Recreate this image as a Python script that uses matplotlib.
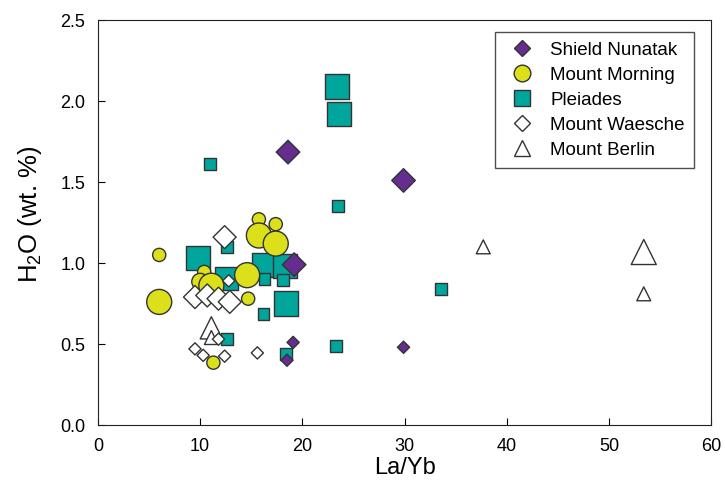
import numpy as np
import matplotlib
matplotlib.use("Agg")
import matplotlib.pyplot as plt
from matplotlib.lines import Line2D

plt.rcParams["font.family"] = ["Liberation Sans", "DejaVu Sans"]
plt.rcParams["mathtext.fontset"] = "custom"
plt.rcParams["mathtext.rm"] = "Liberation Sans"

# Shield Nunatak
sn_x = [18.6, 29.9, 19.2, 19.1, 18.5, 29.9]
sn_y = [1.685, 1.51, 0.99, 0.51, 0.40, 0.48]
sn_ms = [12.0, 12.0, 12.0, 6.2, 6.2, 6.2]

# Mount Morning
mm_x = [6.0, 6.0, 15.75, 17.4, 15.75, 17.4, 14.6, 10.4, 10.0, 11.1, 14.7, 11.3]
mm_y = [1.05, 0.76, 1.27, 1.24, 1.17, 1.12, 0.925, 0.945, 0.885, 0.86, 0.78, 0.385]
mm_ms = [9.5, 18.0, 9.5, 9.5, 18.0, 18.0, 18.0, 9.5, 12.0, 18.0, 9.5, 9.5]

# Pleiades
pl_x = [11.0, 23.4, 23.6, 23.5, 33.6, 23.3, 9.8, 12.6, 16.3, 18.3,
        12.6, 16.3, 18.1, 18.4, 16.2, 12.6, 18.4]
pl_y = [1.61, 2.09, 1.92, 1.35, 0.84, 0.49, 1.03, 1.10, 0.99, 0.98,
        0.905, 0.90, 0.895, 0.75, 0.685, 0.53, 0.44]
pl_ms = [8.6, 17.5, 17.5, 8.6, 8.6, 8.6, 17.5, 8.6, 17.5, 17.5,
         17.0, 8.6, 8.6, 17.5, 8.6, 8.6, 8.6]

# Mount Waesche
mw_x = [12.4, 12.8, 9.5, 10.7, 11.8, 12.9, 9.5, 10.3, 11.8, 12.4, 15.6]
mw_y = [1.16, 0.89, 0.79, 0.80, 0.78, 0.76, 0.47, 0.43, 0.53, 0.425, 0.445]
mw_ms = [11.7, 6.2, 11.7, 11.7, 11.7, 11.7, 6.2, 6.2, 6.2, 6.2, 6.2]

# Mount Berlin
mb_x = [11.1, 11.1, 37.7, 53.4, 53.4]
mb_y = [0.60, 0.54, 1.10, 1.068, 0.81]
mb_ms = [16.0, 10.0, 10.0, 18.0, 10.0]

purple = "#662d91"
yellow = "#dbe01b"
teal = "#00a69c"
edge = "#333333"

fig = plt.figure(figsize=(7.25, 4.91), dpi=100)
ax = fig.add_axes([0.135, 0.1344, 0.846, 0.8247])

# drawing order: squares at the back, then circles, triangles, open diamonds, filled diamonds
ax.scatter(pl_x, pl_y, s=np.array(pl_ms) ** 2, marker="s", c=teal,
           edgecolors=edge, linewidths=1.0, zorder=2)
ax.scatter(mm_x, mm_y, s=np.array(mm_ms) ** 2, marker="o", c=yellow,
           edgecolors=edge, linewidths=1.0, zorder=3)
ax.scatter(mb_x, mb_y, s=np.array(mb_ms) ** 2, marker="^", c="white",
           edgecolors=edge, linewidths=1.0, zorder=4)
ax.scatter(mw_x, mw_y, s=np.array(mw_ms) ** 2, marker="D", c="white",
           edgecolors=edge, linewidths=1.0, zorder=5)
ax.scatter(sn_x, sn_y, s=np.array(sn_ms) ** 2, marker="D", c=purple,
           edgecolors=edge, linewidths=1.0, zorder=6)

ax.set_xlim(0, 60)
ax.set_ylim(0, 2.5)
ax.set_xticks(np.arange(0, 61, 10))
ax.set_yticks(np.arange(0, 2.51, 0.5))
ax.yaxis.set_major_formatter(matplotlib.ticker.FormatStrFormatter("%.1f"))
ax.tick_params(direction="in", length=5, width=0.8, labelsize=13, pad=9)
ax.tick_params(axis="y", pad=9)
for sp in ax.spines.values():
    sp.set_linewidth(0.8)
    sp.set_color("#222222")

ax.set_xlabel("La/Yb", fontsize=17, labelpad=2)
ax.set_ylabel(r"H$_\mathregular{2}$O (wt. %)", fontsize=18.5)
ax.yaxis.set_label_coords(-0.088, 0.52)

handles = [
    Line2D([], [], ls="", marker="D", ms=8.5, mfc=purple, mec=edge, mew=1.0),
    Line2D([], [], ls="", marker="o", ms=12, mfc=yellow, mec=edge, mew=1.0),
    Line2D([], [], ls="", marker="s", ms=12, mfc=teal, mec=edge, mew=1.0),
    Line2D([], [], ls="", marker="D", ms=8.5, mfc="white", mec=edge, mew=1.0),
    Line2D([], [], ls="", marker="^", ms=12, mfc="white", mec=edge, mew=1.0),
]
labels = ["Shield Nunatak", "Mount Morning", "Pleiades", "Mount Waesche", "Mount Berlin"]
leg = ax.legend(handles, labels, loc="upper right", bbox_to_anchor=(0.972, 0.970),
                borderaxespad=0, fontsize=13.5, frameon=True, fancybox=False,
                edgecolor="#222222", handletextpad=0.55, labelspacing=0.42,
                handlelength=1.9, borderpad=0.5)
leg.get_frame().set_linewidth(1.0)

fig.savefig("out.png", dpi=100)
